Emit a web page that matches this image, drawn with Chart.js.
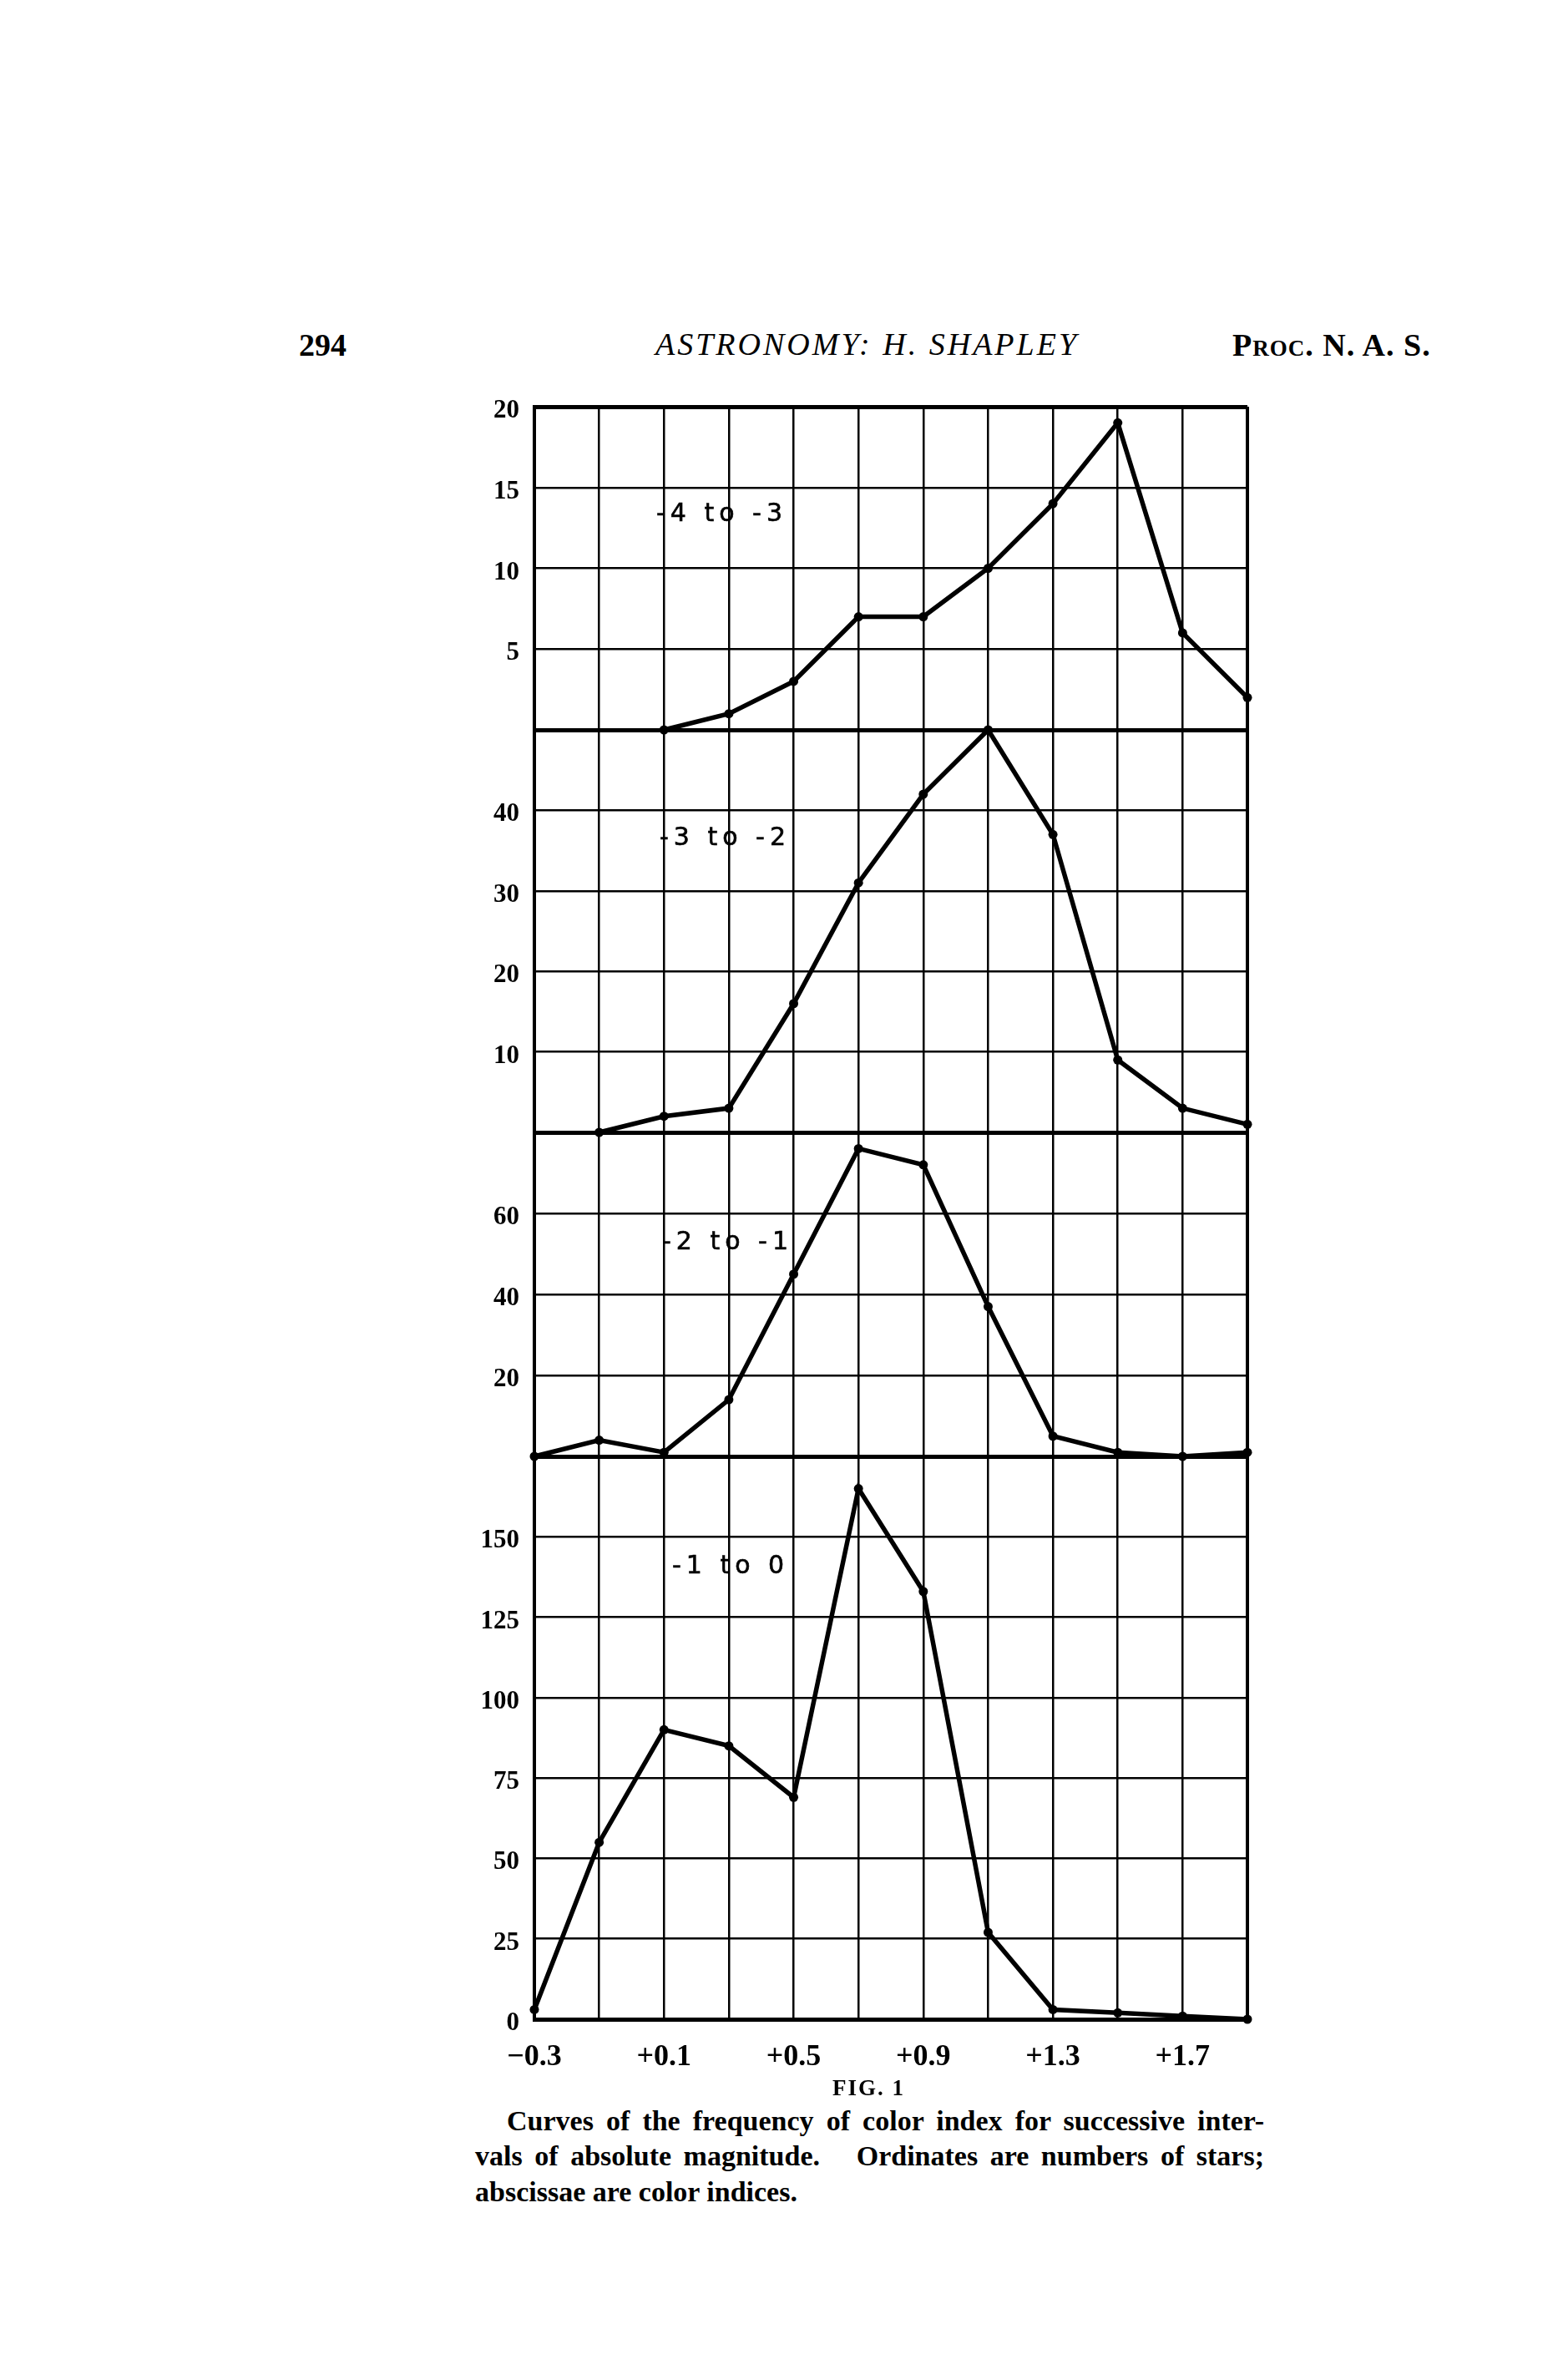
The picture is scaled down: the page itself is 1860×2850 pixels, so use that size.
<!DOCTYPE html>
<html>
<head>
<meta charset="utf-8">
<script src="https://cdn.jsdelivr.net/npm/chart.js@4.4.1/dist/chart.umd.min.js"></script>
<style>
  html, body { margin: 0; padding: 0; background: #fff; }
  body { width: 1860px; height: 2850px; position: relative; overflow: hidden; color: #000; }
  .txt { position: absolute; white-space: nowrap; font-family: "Liberation Serif", "Times New Roman", serif; }
  canvas { position: absolute; }
  .panel-label { position: absolute; font-family: "DejaVu Sans", "Liberation Sans", sans-serif; font-size: 30px; letter-spacing: 6px; line-height: 30px; white-space: nowrap; z-index: 5; -webkit-text-stroke: 0.6px #000; }
  .cap { position: absolute; font-family: "Liberation Serif", serif; font-weight: bold; font-size: 34px; line-height: 40px; text-align: justify; text-align-last: justify; }
</style>
</head>
<body>

<div class="txt" style="left:358px; top:393px; font-size:38px; line-height:40px; font-weight:bold;">294</div>
<div class="txt" style="left:785px; top:392px; font-size:38px; line-height:40px; font-style:italic; letter-spacing:3px;">ASTRONOMY: H. SHAPLEY</div>
<div class="txt" style="left:1476px; top:393px; font-size:38px; line-height:40px; font-weight:bold; font-variant:small-caps; letter-spacing:1px;">Proc. N. A. S.</div>

<canvas id="panel1"></canvas>
<canvas id="panel2"></canvas>
<canvas id="panel3"></canvas>
<canvas id="panel4"></canvas>

<div class="panel-label" style="left:786px; top:599px;">-4 to -3</div>
<div class="panel-label" style="left:790px; top:987px;">-3 to -2</div>
<div class="panel-label" style="left:793px; top:1471px;">-2 to -1</div>
<div class="panel-label" style="left:805px; top:1859px;">-1 to 0</div>

<div class="txt" style="left:997px; top:2484px; font-size:27px; line-height:32px; font-weight:bold; letter-spacing:2px;">FIG. 1</div>
<div class="cap" style="left:607px; top:2520px; width:907px;">Curves of the frequency of color index for successive inter-</div>
<div class="cap" style="left:569px; top:2562px; width:945px;">vals of absolute magnitude.&nbsp;&nbsp; Ordinates are numbers of stars;</div>
<div class="cap" style="left:569px; top:2605px; text-align:left; text-align-last:left; white-space:nowrap;">abscissae are color indices.</div>

<script>
// colour index classes (abscissae)
const colorIndex = ['-0.3', '-0.1', '+0.1', '+0.3', '+0.5', '+0.7', '+0.9', '+1.1', '+1.3', '+1.5', '+1.7', '+1.9'];
const xTickLabels = ['-0.3', '+0.1', '+0.5', '+0.9', '+1.3', '+1.7'];

// numbers of stars per absolute magnitude interval
const mag4to3 = [null, null, 0, 1, 3, 7, 7, 10, 14, 19, 6, 2];
const mag3to2 = [null, 0, 2, 3, 16, 31, 42, 50, 37, 9, 3, 1];
const mag2to1 = [0, 4, 1, 14, 45, 76, 72, 37, 5, 1, 0, 1];
const mag1to0 = [3, 55, 90, 85, 69, 165, 133, 27, 3, 2, 1, 0];

// ordinate tick labels printed on each panel
const yLabels1 = [5, 10, 15, 20];
const yLabels2 = [10, 20, 30, 40];
const yLabels3 = [20, 40, 60];
const yLabels4 = [0, 25, 50, 75, 100, 125, 150];

const PLOT_LEFT = 640;
const PLOT_RIGHT = 1494;
const CANVAS_LEFT = 440;
const CANVAS_RIGHT = 1520;
const PAD_TOP = 50;

const panels = [
  { id: 'panel1', data: mag4to3, max: 20, step: 5, labels: yLabels1, top: 487, bottom: 874, axis: false },
  { id: 'panel2', data: mag3to2, max: 50, step: 10, labels: yLabels2, top: 874, bottom: 1356, axis: false },
  { id: 'panel3', data: mag2to1, max: 80, step: 20, labels: yLabels3, top: 1356, bottom: 1744, axis: false },
  { id: 'panel4', data: mag1to0, max: 175, step: 25, labels: yLabels4, top: 1744, bottom: 2418, axis: true }
];

function fmtX(label) {
  return label.replace('-', '\u2212');
}

function renderPanel(p) {
  const canvas = document.getElementById(p.id);
  // room under the plot: x labels on the last panel, otherwise just
  // enough to hold the half-height of the lowest y label
  const below = p.axis ? 90 : 60;
  canvas.width = CANVAS_RIGHT - CANVAS_LEFT;
  canvas.height = (p.bottom - p.top) + PAD_TOP + below;
  canvas.style.left = CANVAS_LEFT + 'px';
  canvas.style.top = (p.top - PAD_TOP) + 'px';

  new Chart(canvas, {
    type: 'line',
    data: {
      labels: colorIndex,
      datasets: [{
        data: p.data,
        borderColor: '#000',
        backgroundColor: '#000',
        borderWidth: 5.5,
        pointRadius: 5.5,
        pointHoverRadius: 5.5,
        pointBackgroundColor: '#000',
        pointBorderWidth: 0,
        tension: 0,
        clip: 10
      }]
    },
    options: {
      responsive: false,
      animation: false,
      events: [],
      layout: {
        padding: { top: PAD_TOP, right: CANVAS_RIGHT - PLOT_RIGHT, bottom: 0, left: 0 }
      },
      plugins: {
        legend: { display: false },
        tooltip: { enabled: false }
      },
      scales: {
        x: {
          type: 'category',
          offset: false,
          afterFit: function(scale) { scale.height = below; },
          border: { display: true, color: '#000', width: 5 },
          grid: {
            color: '#000',
            drawTicks: false,
            lineWidth: function(c) { return (c.index === 0 || c.index === colorIndex.length - 1) ? 4 : 2.5; }
          },
          ticks: {
            display: p.axis,
            autoSkip: false,
            maxRotation: 0,
            padding: 24,
            color: '#000',
            font: { family: 'Liberation Serif', size: 36, weight: 'bold' },
            callback: function(value, index) {
              const lab = colorIndex[index];
              return xTickLabels.includes(lab) ? fmtX(lab) : '';
            }
          }
        },
        y: {
          min: 0,
          max: p.max,
          afterFit: function(scale) { scale.width = PLOT_LEFT - CANVAS_LEFT; },
          border: { display: true, color: '#000', width: 4 },
          grid: {
            color: '#000',
            drawTicks: false,
            lineWidth: function(c) {
              const v = c.tick ? c.tick.value : null;
              return (v === 0 || v === p.max) ? 5 : 2.5;
            }
          },
          ticks: {
            stepSize: p.step,
            padding: 18,
            labelOffset: 5,
            color: '#000',
            font: { family: 'Liberation Serif', size: 31, weight: 'bold' },
            callback: function(value) {
              return p.labels.includes(value) ? String(value) : '';
            }
          }
        }
      }
    }
  });
}

panels.forEach(renderPanel);
</script>
</body>
</html>
